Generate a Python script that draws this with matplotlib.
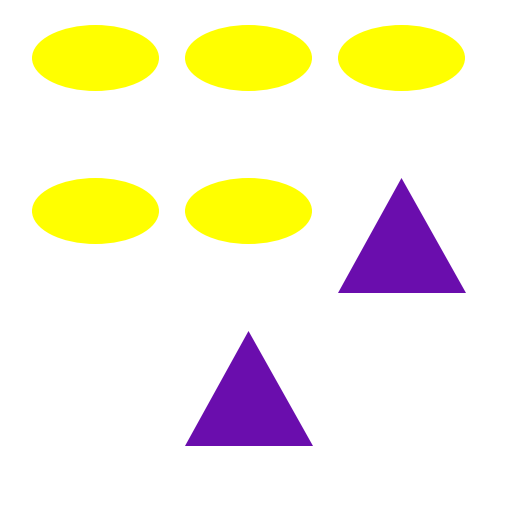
import matplotlib
matplotlib.use("Agg")
import matplotlib.pyplot as plt
from matplotlib.patches import Ellipse, Polygon

# grid contents
shapes = ["ellipse", "ellipse", "ellipse", "ellipse", "ellipse", "triangle", "triangle"]
rows = [0, 0, 0, 1, 1, 1, 2]
cols = [0, 1, 2, 0, 1, 2, 1]
colors = {"ellipse": "#FFFF00", "triangle": "#6A0DAD"}

cell = 153
left, top = 32, 25
w = 127
ell_h = 66
tri_h = 115

fig = plt.figure(figsize=(5.12, 5.12), dpi=100)
ax = fig.add_axes([0, 0, 1, 1])
ax.set_xlim(0, 512)
ax.set_ylim(512, 0)
ax.axis("off")

for s, r, c in zip(shapes, rows, cols):
    x0 = left + c * cell
    y0 = top + r * cell
    if s == "ellipse":
        ax.add_patch(Ellipse((x0 + w / 2, y0 + ell_h / 2), w, ell_h,
                             facecolor=colors[s], edgecolor="none"))
    else:
        ty = y0 + 153 - 0  # triangle top at same offset as ellipse top
        ty = y0
        ax.add_patch(Polygon([(x0 + w / 2, ty), (x0 + w + 1, ty + tri_h), (x0, ty + tri_h)],
                             closed=True, facecolor=colors[s], edgecolor="none"))

fig.savefig("out.png", dpi=100)
